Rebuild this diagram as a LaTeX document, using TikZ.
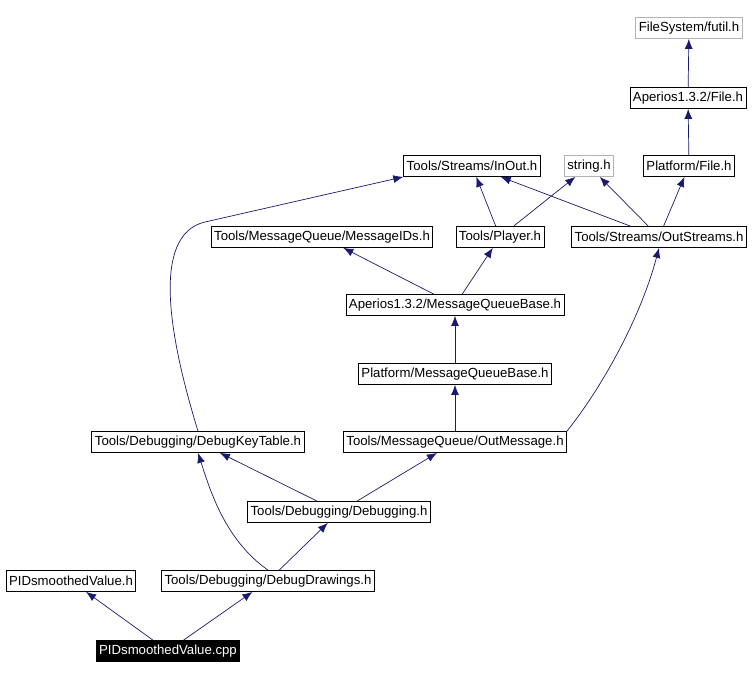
\documentclass[tikz,border=0pt]{standalone}
\usepackage{fontspec}
\setmainfont{Liberation Sans}
\usepackage{tikz}
\usetikzlibrary{arrows.meta}
\definecolor{edgeblue}{HTML}{191970}
\tikzset{
  file/.style={draw=black, fill=white, font=\fontsize{13.2}{15}\selectfont, inner xsep=3pt, inner ysep=0pt, minimum height=21pt, line width=0.8pt},
  extern/.style={file, draw=gray!60},
  mainfile/.style={file, fill=black, text=white},
  dep/.style={draw=edgeblue, line width=0.7pt, -{Latex[length=10pt,width=8pt]}}
}
\begin{document}
\begin{tikzpicture}[x=1pt,y=-1pt]
\useasboundingbox (0,0) rectangle (752,679);

% top of the graph
\node[extern] (futil) at (689,28) {FileSystem/futil.h};
\node[file] (afile) at (688,98) {Aperios1.3.2/File.h};
\node[file] (pfile) at (689,166) {Platform/File.h};
\node[file] (inout) at (472,166) {Tools/Streams/InOut.h};
\node[extern] (string) at (589,166) {string.h};

% middle rows
\node[file] (msgids) at (322,237) {Tools/MessageQueue/MessageIDs.h};
\node[file] (player) at (500,237) {Tools/Player.h};
\node[file] (outstr) at (659,237) {Tools/Streams/OutStreams.h};
\node[file] (amqb) at (455,305) {Aperios1.3.2/MessageQueueBase.h};
\node[file] (pmqb) at (455,374) {Platform/MessageQueueBase.h};
\node[file] (dkt) at (198,442) {Tools/Debugging/DebugKeyTable.h};
\node[file] (outmsg) at (455,442) {Tools/MessageQueue/OutMessage.h};
\node[file] (dbg) at (339,512) {Tools/Debugging/Debugging.h};

% bottom
\node[file] (pidh) at (71,581) {PIDsmoothedValue.h};
\node[file] (ddraw) at (268,581) {Tools/Debugging/DebugDrawings.h};
\node[mainfile] (cpp) at (168,651) {PIDsmoothedValue.cpp};

% includes
\draw[dep] (cpp) -- (pidh);
\draw[dep] (cpp) -- (ddraw);
\draw[dep] (ddraw) -- (dbg);
\draw[dep] (ddraw.north) .. controls (225,540) and (210,490) .. (dkt.south);
\draw[dep] (dbg) -- (dkt);
\draw[dep] (dbg) -- (outmsg);
\draw[dep] (dkt.north) .. controls (170,340) and (150,235) .. (205,222) -- (inout.south west);
\draw[dep] (outmsg) -- (pmqb);
\draw[dep] (outmsg.north east) .. controls (600,390) and (640,320) .. (outstr.south);
\draw[dep] (pmqb) -- (amqb);
\draw[dep] (amqb) -- (msgids);
\draw[dep] (amqb) -- (player);
\draw[dep] (player) -- (inout);
\draw[dep] (player) -- (string);
\draw[dep] (outstr) -- (inout);
\draw[dep] (outstr) -- (string);
\draw[dep] (outstr) -- (pfile);
\draw[dep] (pfile) -- (afile);
\draw[dep] (afile) -- (futil);

\end{tikzpicture}
\end{document}
